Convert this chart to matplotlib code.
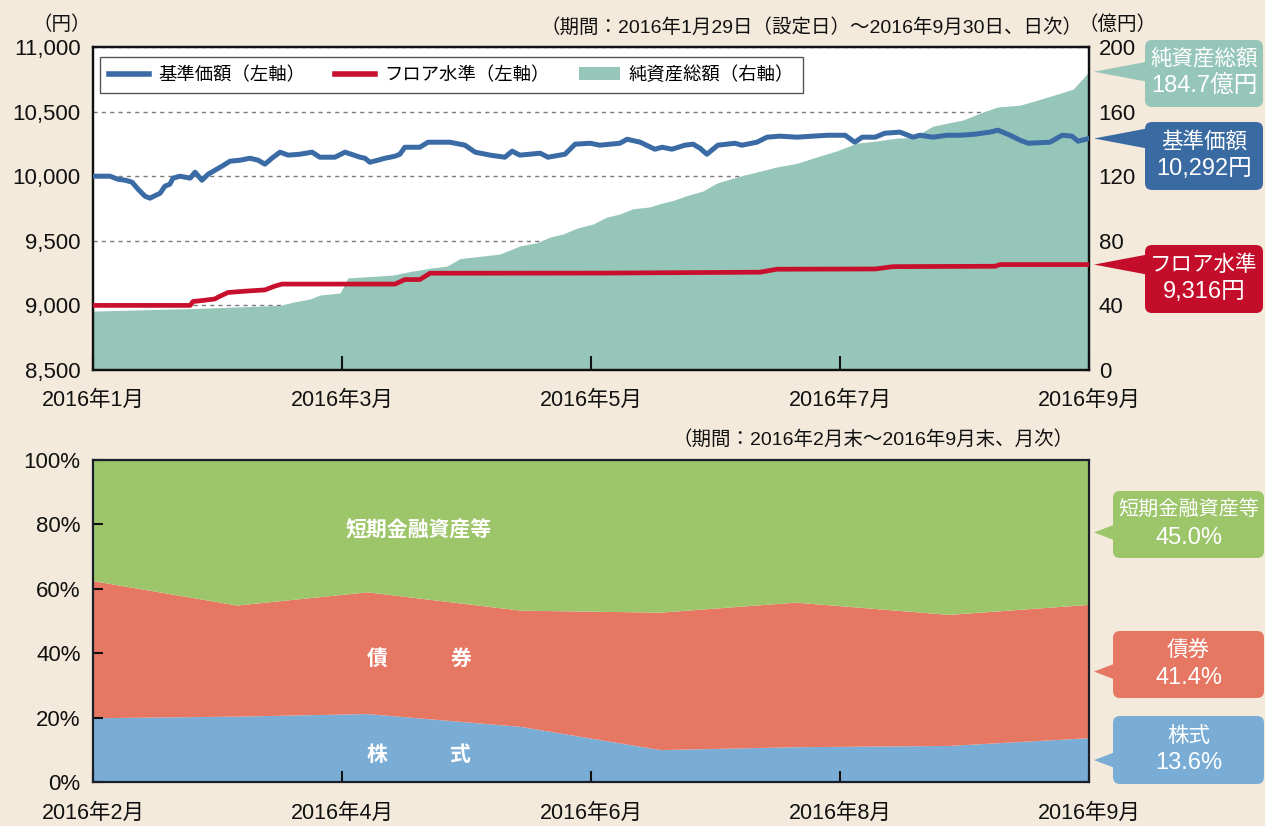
import matplotlib
matplotlib.use('Agg')
import matplotlib.pyplot as plt
import numpy as np
import pandas as pd
from matplotlib.patches import FancyBboxPatch, Polygon, Patch
from matplotlib.lines import Line2D
from matplotlib.transforms import IdentityTransform

plt.rcParams['font.family'] = ['Liberation Sans', 'Noto Sans CJK JP']

# ---------------- data: top chart (days since 2016-01-29) ----------------
nav_days = [0, 2.5, 4.2, 6.1, 7.9, 9.6, 11.1, 12.8, 14.0, 16.5, 17.7, 18.9, 19.7, 21.4,
            23.9, 25.1, 26.8, 28.3, 30.0, 31.7, 33.7, 36.2, 38.6, 40.6, 42.3, 44.0,
            46.0, 48.0, 50.9, 53.9, 55.8, 59.5, 62.0, 65.7, 66.9, 68.1, 70.1, 71.8,
            74.3, 75.5, 76.7, 80.4, 82.4, 87.8, 91.5, 94.0, 97.7, 101.3, 103.1, 105.0,
            110.0, 111.9, 116.1, 118.6, 122.3, 124.7, 129.6, 131.4, 134.6, 138.2, 140.0,
            142.4, 145.6, 147.6, 149.3, 151.0, 153.7, 157.9, 159.6, 163.3, 165.8, 169.0,
            173.2, 177.1, 180.8, 185.0, 187.4, 189.2, 192.4, 194.8, 198.5, 201.7, 203.4,
            206.6, 210.1, 213.3, 216.9, 220.6, 222.6, 225.6, 228.0, 230.0, 235.4, 238.4,
            240.8, 242.3, 245]
nav_vals = [10000, 10000, 10000, 9977, 9969, 9954, 9899, 9845, 9830, 9868, 9923, 9938, 9985, 10000,
            9985, 10031, 9969, 10015, 10046, 10077, 10116, 10124, 10139, 10124, 10093, 10139,
            10186, 10163, 10170, 10186, 10147, 10147, 10186, 10147, 10139, 10108, 10124, 10139,
            10155, 10170, 10224, 10224, 10263, 10263, 10240, 10186, 10163, 10147, 10194, 10163,
            10178, 10147, 10170, 10248, 10255, 10240, 10255, 10286, 10263, 10209, 10224,
            10209, 10240, 10248, 10217, 10170, 10240, 10255, 10240, 10263, 10302, 10310,
            10302, 10310, 10317, 10317, 10263, 10302, 10302, 10333, 10341, 10302, 10317,
            10302, 10317, 10317, 10325, 10341, 10356, 10317, 10279, 10255, 10263, 10317,
            10310, 10271, 10292]

floor_days = [0, 23.9, 24.6, 27.5, 30.0, 30.7, 33.2, 37.4, 42.3, 44.8, 46.5, 74.3, 76.7,
              80.4, 82.9, 124.7, 164.1, 168.2, 192.4, 196.8, 221.9, 223.1, 245]
floor_vals = [9000, 9000, 9030, 9040, 9050, 9063, 9100, 9110, 9120, 9150, 9165, 9165, 9200,
              9200, 9249, 9250, 9257, 9280, 9282, 9300, 9303, 9316, 9316]

asset_days = [0, 23.9, 46.0, 49.2, 53.4, 55.8, 60.8, 62.7, 73.8, 78.0, 82.9, 87.1, 90.3,
              100.1, 105.0, 109.2, 112.4, 115.6, 119.1, 123.0, 126.4, 129.6, 132.8, 137.0,
              139.5, 142.7, 146.1, 150.0, 153.5, 158.4, 163.3, 168.2, 173.2, 178.1, 183.0,
              187.9, 192.8, 197.8, 201.7, 206.6, 214.0, 218.2, 222.4, 228.0, 232.2, 236.1,
              241.1, 245]
asset_vals = [36.5, 38, 40, 42, 44, 46.4, 47.7, 57, 58.8, 61, 63, 64.4, 69,
              71.8, 76.8, 78.8, 82.3, 84.2, 87.9, 90.4, 94.7, 96.6, 99.8, 101,
              103, 105, 108, 110.8, 115.8, 119.5, 122.6, 125.7, 128, 132, 135.7,
              140.5, 141.8, 143.6, 144, 151, 154.8, 159, 162.8, 164, 167, 170,
              173.9, 184.7]

top_xlabels = ['2016年1月', '2016年3月', '2016年5月', '2016年7月', '2016年9月']
top_period = 245

# ---------------- data: bottom chart (month ends) ----------------
alloc_dates = ['2016-02-29', '2016-03-31', '2016-04-28', '2016-05-31',
               '2016-06-30', '2016-07-29', '2016-08-31', '2016-09-30']
stocks = [19.8, 20.3, 21.1, 17.1, 9.9, 10.8, 11.2, 13.6]
bonds = [42.6, 34.5, 37.8, 36.1, 42.7, 44.9, 40.7, 41.4]
short_term = [37.6, 45.2, 41.1, 46.8, 47.4, 44.3, 48.1, 45.0]
bottom_xlabels = ['2016年2月', '2016年4月', '2016年6月', '2016年8月', '2016年9月']

# ---------------- style ----------------
BG = '#F3EADC'
BLUE = '#3A6BA5'
RED = '#C8102E'
TEAL = '#96C6B9'
GREEN = '#9DC66A'
SALMON = '#E67763'
LBLUE = '#7AADD6'
BOXBLUE = '#3A6AA2'
BOXRED = '#C40D2B'

W, H = 1265, 826
fig = plt.figure(figsize=(W / 100, H / 100), dpi=100, facecolor=BG)


def px_rect(l, t, r, b):
    return [l / W, 1 - b / H, (r - l) / W, (b - t) / H]


# ---------------- top chart ----------------
ax = fig.add_axes(px_rect(93, 47, 1089, 370))
ax2 = ax.twinx()
ax.set_zorder(ax2.get_zorder() + 1)
ax.patch.set_visible(False)
ax2.patch.set_visible(True)
ax2.set_facecolor('white')

ax2.fill_between(asset_days, 0, asset_vals, color=TEAL, linewidth=0, zorder=2)
ax2.set_ylim(0, 200)
ax2.set_yticks([0, 40, 80, 120, 160, 200])
ax2.set_axisbelow(True)
ax2.grid(axis='y', linestyle=(0, (3, 3)), color='#7a7a7a', linewidth=1.0)
ax2.tick_params(axis='y', direction='in', length=6, width=1.5, pad=7, labelsize=16,
                colors='#111')

ax.plot(floor_days, floor_vals, color=RED, lw=3.4, solid_joinstyle='round', zorder=3)
ax.plot(nav_days, nav_vals, color=BLUE, lw=3.6, solid_joinstyle='round', zorder=4)
ax.set_xlim(0, top_period)
ax.set_ylim(8500, 11000)
yt = list(range(8500, 11001, 500))
ax.set_yticks(yt)
ax.set_yticklabels([f'{v:,}' for v in yt])
ax.tick_params(axis='y', length=0, pad=9, labelsize=16, colors='#111')
ax.set_xticks(np.linspace(0, top_period, 5))
ax.set_xticklabels(top_xlabels)
ax.tick_params(axis='x', direction='in', length=10, width=1.5, pad=14, labelsize=15.5,
               colors='#111')
for a in (ax, ax2):
    for s in a.spines.values():
        s.set_linewidth(1.6)
        s.set_color('#111')

handles = [Line2D([], [], color=BLUE, lw=4), Line2D([], [], color=RED, lw=4),
           Patch(facecolor=TEAL, edgecolor='none')]
labels = ['基準価額（左軸）', 'フロア水準（左軸）', '純資産総額（右軸）']
leg = ax.legend(handles, labels, loc='upper left', bbox_to_anchor=(0.007, 0.969), ncol=3,
                frameon=True, fancybox=False, edgecolor='#555555', framealpha=1,
                fontsize=13.2, borderaxespad=0, handlelength=2.2, columnspacing=1.6,
                borderpad=0.5, handletextpad=0.5)
leg.get_frame().set_linewidth(1.0)

fig.text(62 / W, 1 - 25 / H, '（円）', ha='center', va='center', fontsize=14, color='#111')
fig.text(1117 / W, 1 - 25 / H, '（億円）', ha='center', va='center', fontsize=14, color='#111')
fig.text(1082 / W, 1 - 27 / H, '（期間：2016年1月29日（設定日）～2016年9月30日、日次）',
         ha='right', va='center', fontsize=14, color='#111')

# ---------------- bottom chart ----------------
axb = fig.add_axes(px_rect(93, 460, 1089, 782))
d = pd.to_datetime(alloc_dates)
xd = np.array((d - d[0]).days, dtype=float)
axb.stackplot(xd, stocks, bonds, short_term, colors=[LBLUE, SALMON, GREEN], linewidth=0)
axb.set_xlim(xd[0], xd[-1])
axb.set_ylim(0, 100)
axb.set_yticks(range(0, 101, 20))
axb.set_yticklabels([f'{v}%' for v in range(0, 101, 20)])
axb.tick_params(axis='y', direction='in', length=7, width=1.5, pad=9, labelsize=16,
                colors='#111')
axb.set_xticks(np.linspace(xd[0], xd[-1], 5))
axb.set_xticklabels(bottom_xlabels)
axb.tick_params(axis='x', direction='in', length=8, width=1.5, pad=15, labelsize=15.5,
                colors='#111')
for s in axb.spines.values():
    s.set_linewidth(1.6)
    s.set_color('#1a1f2a')

lab_kw = dict(color='white', fontsize=15, fontweight='bold', ha='center', va='center',
              family=['Noto Sans CJK JP'])
axb.text(70, 78.3, '短期金融資産等', **lab_kw)
axb.text(61, 38.5, '債', **lab_kw)
axb.text(79, 38.5, '券', **lab_kw)
axb.text(61, 8.6, '株', **lab_kw)
axb.text(79, 8.6, '式', **lab_kw)

fig.text(1074 / W, 1 - 439 / H, '（期間：2016年2月末～2016年9月末、月次）',
         ha='right', va='center', fontsize=14, color='#111')


# ---------------- callouts ----------------
def callout(tip, box, color, line1, line2, half=10, fs1=15.5, fs2=17):
    l, t, r, b = box
    x0, y0 = l, H - b
    w, h = r - l, b - t
    fig.add_artist(FancyBboxPatch((x0, y0), w, h,
                                  boxstyle='round,pad=0,rounding_size=7',
                                  transform=IdentityTransform(), facecolor=color,
                                  edgecolor='none'))
    tx, ty = tip
    by = min(max(ty, y0 + half + 3), y0 + h - half - 3)
    fig.add_artist(Polygon([[tx, ty], [x0 + 2, by + half], [x0 + 2, by - half]],
                           closed=True, transform=IdentityTransform(),
                           facecolor=color, edgecolor='none'))
    cx, cy = x0 + w / 2, y0 + h / 2
    fig.text(cx / W, (cy + 14) / H, line1, ha='center', va='center', color='white',
             fontsize=fs1)
    fig.text(cx / W, (cy - 13) / H, line2, ha='center', va='center', color='white',
             fontsize=fs2)


fig.canvas.draw()
off = 5
t_asset = ax2.transData.transform((top_period, asset_vals[-1]))
t_nav = ax.transData.transform((top_period, nav_vals[-1]))
t_floor = ax.transData.transform((top_period, floor_vals[-1]))
callout((t_asset[0] + off, t_asset[1]), (1145, 40, 1263, 107), TEAL,
        '純資産総額', f'{asset_vals[-1]}億円')
callout((t_nav[0] + off, t_nav[1]), (1145, 122, 1263, 190), BOXBLUE,
        '基準価額', f'{nav_vals[-1]:,}円')
callout((t_floor[0] + off, t_floor[1]), (1145, 245, 1263, 313), BOXRED,
        'フロア水準', f'{floor_vals[-1]:,}円')

s_end, b_end, c_end = stocks[-1], bonds[-1], short_term[-1]
t_c = axb.transData.transform((xd[-1], s_end + b_end + c_end / 2))
t_b = axb.transData.transform((xd[-1], s_end + b_end / 2))
t_s = axb.transData.transform((xd[-1], s_end / 2))
callout((t_c[0] + off, t_c[1]), (1113, 491, 1264, 558), GREEN,
        '短期金融資産等', f'{c_end:.1f}%', half=8, fs1=14.5)
callout((t_b[0] + off, t_b[1]), (1113, 631, 1264, 698), SALMON,
        '債券', f'{b_end:.1f}%', half=8)
callout((t_s[0] + off, t_s[1]), (1113, 716, 1264, 784), LBLUE,
        '株式', f'{s_end:.1f}%', half=8)

fig.savefig('out.png', dpi=100, facecolor=BG)
